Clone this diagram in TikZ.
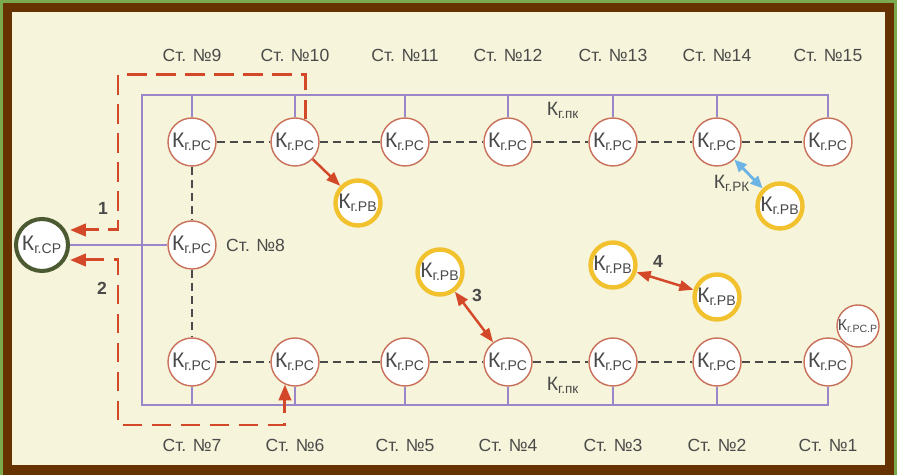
\documentclass[tikz,border=0pt]{standalone}
\usepackage{fontspec}
\setmainfont{Liberation Sans}
\usetikzlibrary{arrows.meta}
\definecolor{framegreen}{HTML}{7BAA4E}
\definecolor{framebrown}{HTML}{663300}
\definecolor{paper}{HTML}{F6F4DA}
\definecolor{ringred}{HTML}{C8705A}
\definecolor{ringyellow}{HTML}{F2C12E}
\definecolor{ringgreen}{HTML}{4C5A32}
\definecolor{buspurple}{HTML}{9A86C8}
\definecolor{routered}{HTML}{D4482A}
\definecolor{linkblue}{HTML}{6CB4E4}
\definecolor{txtgray}{HTML}{4A4A4A}
\newcommand{\Kg}[1]{К\textsubscript{г.#1}}
\tikzset{
  st/.style={circle, draw=ringred, line width=0.8pt, fill=white, minimum size=0.96cm,
    inner sep=0pt, text=txtgray, font=\fontsize{12}{14}\selectfont},
  rv/.style={st, draw=ringyellow, line width=2.5pt, minimum size=0.9cm},
  srnode/.style={st, draw=ringgreen, line width=2.3pt, minimum size=1.04cm},
  stsmall/.style={st, minimum size=0.78cm, font=\fontsize{9}{10}\selectfont},
  stlabel/.style={text=txtgray, font=\fontsize{10}{12}\selectfont},
  klabel/.style={text=txtgray, font=\fontsize{11}{13}\selectfont},
  num/.style={text=txtgray, font=\fontsize{10}{12}\selectfont\bfseries},
  bus/.style={draw=buspurple, line width=0.85pt},
  link/.style={draw=txtgray, line width=0.8pt, dash pattern=on 4.5pt off 3pt},
  route/.style={draw=routered, line width=1.7pt, dash pattern=on 11pt off 5.5pt},
  redarrow/.style={draw=routered, line width=1.4pt},
  bluearrow/.style={draw=linkblue, line width=1.6pt},
}
\begin{document}
\begin{tikzpicture}[x=0.02cm, y=-0.02cm]
\useasboundingbox (0,0) rectangle (897,475);
% frame
\fill[framegreen] (0,0) rectangle (897,475);
\fill[framebrown] (3,3) rectangle (894,475);
\fill[paper] (12,12) rectangle (885,465);

% stations, top row
\node[st] (s9) at (192,142) {\Kg{РС}};
\node[st] (s10) at (295,142) {\Kg{РС}};
\node[st] (s11) at (405,142) {\Kg{РС}};
\node[st] (s12) at (508,142) {\Kg{РС}};
\node[st] (s13) at (613,142) {\Kg{РС}};
\node[st] (s14) at (717,142) {\Kg{РС}};
\node[st] (s15) at (828,142) {\Kg{РС}};
\node[st] (s8) at (192,245) {\Kg{РС}};
% stations, bottom row
\node[st] (s7) at (192,362) {\Kg{РС}};
\node[st] (s6) at (295,362) {\Kg{РС}};
\node[st] (s5) at (405,362) {\Kg{РС}};
\node[st] (s4) at (508,362) {\Kg{РС}};
\node[st] (s3) at (613,362) {\Kg{РС}};
\node[st] (s2) at (717,362) {\Kg{РС}};
\node[st] (s1) at (828,362) {\Kg{РС}};
\node[stsmall] (sp) at (858,326) {\Kg{РС.Р}};
\node[srnode] (sr) at (42,245) {\Kg{СР}};
\node[rv] (rv1) at (358,203) {\Kg{РВ}};
\node[rv] (rv2) at (780,206) {\Kg{РВ}};
\node[rv] (rv3) at (440,272) {\Kg{РВ}};
\node[rv] (rv4) at (613,265) {\Kg{РВ}};
\node[rv] (rv5) at (717,297) {\Kg{РВ}};

% station names
\node[stlabel] (l9) at (192,55) {Ст. №9};
\node[stlabel] (l10) at (295,55) {Ст. №10};
\node[stlabel] (l11) at (405,55) {Ст. №11};
\node[stlabel] (l12) at (508,55) {Ст. №12};
\node[stlabel] (l13) at (613,55) {Ст. №13};
\node[stlabel] (l14) at (717,55) {Ст. №14};
\node[stlabel] (l15) at (828,55) {Ст. №15};
\node[stlabel, anchor=west] (l8) at (220,245) {Ст. №8};
\node[stlabel] (l7) at (192,445) {Ст. №7};
\node[stlabel] (l6) at (295,445) {Ст. №6};
\node[stlabel] (l5) at (405,445) {Ст. №5};
\node[stlabel] (l4) at (508,445) {Ст. №4};
\node[stlabel] (l3) at (613,445) {Ст. №3};
\node[stlabel] (l2) at (717,445) {Ст. №2};
\node[stlabel] (l1) at (828,445) {Ст. №1};

% channel bus
\coordinate (tl) at (142,95);
\coordinate (bl) at (142,405);
\draw[bus] (s15.north) |- (tl) -- (bl) -| (s1.south);
\draw[bus] (s9.north) -- (s9.north |- tl);
\draw[bus] (s10.north) -- (s10.north |- tl);
\draw[bus] (s11.north) -- (s11.north |- tl);
\draw[bus] (s12.north) -- (s12.north |- tl);
\draw[bus] (s13.north) -- (s13.north |- tl);
\draw[bus] (s14.north) -- (s14.north |- tl);
\draw[bus] (s7.south) -- (s7.south |- bl);
\draw[bus] (s6.south) -- (s6.south |- bl);
\draw[bus] (s5.south) -- (s5.south |- bl);
\draw[bus] (s4.south) -- (s4.south |- bl);
\draw[bus] (s3.south) -- (s3.south |- bl);
\draw[bus] (s2.south) -- (s2.south |- bl);
\draw[bus, line width=1.6pt] (sr) -- (s8);
\node[klabel] (pk1) at (563,110) {\Kg{пк}};
\node[klabel] (pk2) at (563,385) {\Kg{пк}};

% radio links between stations
\draw[link] (s9) -- (s10) -- (s11) -- (s12) -- (s13) -- (s14) -- (s15);
\draw[link] (s7) -- (s6) -- (s5) -- (s4) -- (s3) -- (s2) -- (s1);
\draw[link] (s9) -- (s8) -- (s7);

% routes 1 and 2
\coordinate (c1) at (118,75);
\coordinate (c2) at (118,230);
\coordinate (c3) at (118,260);
\coordinate (c4) at (118,425);
\draw[route, -{Triangle[length=9pt, width=7pt]}] (s10.66) |- (c1) -- (c2) -- (c2 -| sr.east);
\draw[route, {Triangle[length=9pt, width=7pt]}-{Triangle[length=9pt, width=7pt]}] (c3 -| sr.east) -- (c3) -- (c4) -| (s6.246);
\node[num] (n1) at (103,208) {1};
\node[num] (n2) at (102,288) {2};

% relay links
\draw[redarrow, -{Triangle[length=8pt, width=6pt]}] (s10) -- (rv1);
\draw[redarrow, {Triangle[length=8pt, width=6pt]}-{Triangle[length=8pt, width=6pt]}] (rv3) -- (s4);
\draw[redarrow, {Triangle[length=8pt, width=6pt]}-{Triangle[length=8pt, width=6pt]}] (rv4) -- (rv5);
\draw[bluearrow, {Triangle[length=7pt, width=6pt]}-{Triangle[length=7pt, width=6pt]}] (s14) -- (rv2);
\node[num] (n3) at (477,295) {3};
\node[num] (n4) at (658,261) {4};
\node[klabel] (rk) at (732,183) {\Kg{РК}};
\end{tikzpicture}
\end{document}
